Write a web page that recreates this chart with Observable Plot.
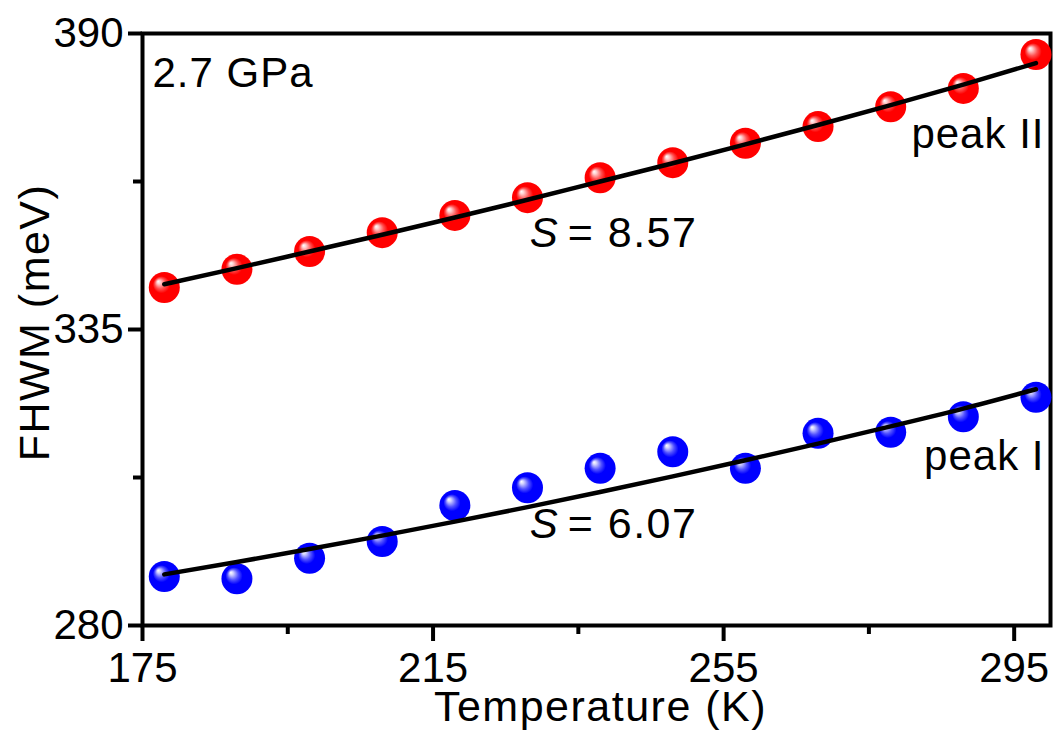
<!DOCTYPE html>
<html>
<head>
<meta charset="utf-8">
<script src="https://cdn.jsdelivr.net/npm/d3@7"></script>
<script src="https://cdn.jsdelivr.net/npm/@observablehq/plot@0.6"></script>
<style>
  html, body { margin: 0; padding: 0; background: #fff; }
  #chart { width: 1056px; height: 733px; }
</style>
</head>
<body>
<svg width="0" height="0" style="position:absolute">
  <defs>
    <radialGradient id="gRed" cx="0.5" cy="0.5" r="0.5" fx="0.3" fy="0.3">
      <stop offset="0" stop-color="#ffffff"/>
      <stop offset="0.12" stop-color="#ffd0d0"/>
      <stop offset="0.35" stop-color="#ff5050"/>
      <stop offset="0.55" stop-color="#ff0000"/>
      <stop offset="1" stop-color="#ff0000"/>
    </radialGradient>
    <radialGradient id="gBlue" cx="0.5" cy="0.5" r="0.5" fx="0.3" fy="0.3">
      <stop offset="0" stop-color="#ffffff"/>
      <stop offset="0.12" stop-color="#d0d0ff"/>
      <stop offset="0.35" stop-color="#5050ff"/>
      <stop offset="0.55" stop-color="#0000ff"/>
      <stop offset="1" stop-color="#0000ff"/>
    </radialGradient>
  </defs>
</svg>
<div id="chart"></div>
<script>
// Temperatures (K)
const temps = [178, 188, 198, 208, 218, 228, 238, 248, 258, 268, 278, 288, 298];
// FWHM (meV) measured points
const peakII = [342.8, 346.2, 349.5, 353.0, 356.2, 359.5, 363.2, 366.0, 369.6, 372.7, 376.4, 379.8, 386.1];
const peakI  = [289.1, 288.7, 292.5, 295.6, 302.3, 305.6, 309.2, 312.3, 309.2, 315.7, 315.9, 318.8, 322.4];
// Fit curves
const peakIIFit = [343.4, 346.4, 349.5, 352.6, 355.8, 359.1, 362.5, 365.9, 369.4, 373.0, 376.7, 380.5, 384.5];
const peakIFit  = [289.5, 291.8, 294.2, 296.7, 299.3, 302.0, 304.8, 307.7, 310.7, 313.8, 317.0, 320.3, 323.9];
// Axis ticks
const xTicks = [175, 215, 255, 295];
const xMinor = [195, 235, 275];
const yTicks = [280, 335, 390];
const yMinor = [307.5, 362.5];
// Labels
const pressureLabel = "2.7 GPa";
const sII = "= 8.57";
const sI = "= 6.07";
const xTitle = "Temperature (K)";
const yTitle = "FHWM (meV)";

const rowsII = temps.map((t, i) => ({t, v: peakII[i], f: peakIIFit[i]}));
const rowsI = temps.map((t, i) => ({t, v: peakI[i], f: peakIFit[i]}));

const font = "'Liberation Sans', Arial, sans-serif";

const chart = Plot.plot({
  width: 1056,
  height: 733,
  marginLeft: 142,
  marginRight: 6,
  marginTop: 33,
  marginBottom: 108,
  style: {fontFamily: font, fontSize: "42px", color: "black", background: "white", overflow: "visible"},
  x: {domain: [175, 300], axis: null},
  y: {domain: [280, 390], axis: null},
  marks: [
    Plot.axisX({ticks: xTicks, tickSize: 16, tickPadding: 11, strokeWidth: 4, label: null, tickFormat: d => String(d)}),
    Plot.axisX({ticks: xMinor, tickSize: 9, strokeWidth: 4, label: null, tickFormat: () => ""}),
    Plot.axisY({ticks: yTicks, tickSize: 14, tickPadding: 5, strokeWidth: 4, label: null, tickFormat: d => String(d)}),
    Plot.axisY({ticks: yMinor, tickSize: 9, strokeWidth: 4, label: null, tickFormat: () => ""}),
    Plot.frame({strokeWidth: 4}),
    Plot.dot(rowsII, {x: "t", y: "v", r: 15.5, fill: "url(#gRed)", stroke: "none"}),
    Plot.dot(rowsI, {x: "t", y: "v", r: 15.5, fill: "url(#gBlue)", stroke: "none"}),
    Plot.line(rowsII, {x: "t", y: "f", stroke: "black", strokeWidth: 4.5, curve: "natural"}),
    Plot.line(rowsI, {x: "t", y: "f", stroke: "black", strokeWidth: 4.5, curve: "natural"}),
    Plot.text([pressureLabel], {frameAnchor: "top-left", text: d => d, textAnchor: "start", lineAnchor: "top", dx: 10, dy: 24, fill: "black", className: "ls1"}),
    Plot.text(["S"], {x: 228.3, y: 352.8, text: d => d, textAnchor: "start", fontStyle: "italic", fill: "black"}),
    Plot.text([sII], {x: 228.3, y: 352.8, text: d => d, textAnchor: "start", dx: 38, fontSize: 43, fill: "black", className: "ls15"}),
    Plot.text(["S"], {x: 228.3, y: 298.8, text: d => d, textAnchor: "start", fontStyle: "italic", fill: "black"}),
    Plot.text([sI], {x: 228.3, y: 298.8, text: d => d, textAnchor: "start", dx: 38, fontSize: 43, fill: "black", className: "ls15"}),
    Plot.text(["peak II"], {frameAnchor: "right", y: 371.2, text: d => d, textAnchor: "end", dx: -6, fill: "black", className: "ls1"}),
    Plot.text(["peak I"], {frameAnchor: "right", y: 311.4, text: d => d, textAnchor: "end", dx: -6, fill: "black", className: "ls1"}),
    Plot.text([xTitle], {frameAnchor: "bottom", text: d => d, textAnchor: "middle", lineAnchor: "middle", dy: 82, dx: 4, fontSize: 43, fill: "black", className: "ls15"}),
    Plot.text([yTitle], {frameAnchor: "left", text: d => d, textAnchor: "middle", lineAnchor: "middle", rotate: -90, dx: -107, dy: -7, fontSize: 43, fill: "black", className: "ls15"})
  ]
});
d3.select(chart).selectAll("g.ls1 text").style("letter-spacing", "1px");
d3.select(chart).selectAll("g.ls15 text").style("letter-spacing", "1.5px");
document.getElementById("chart").appendChild(chart);
</script>
</body>
</html>
